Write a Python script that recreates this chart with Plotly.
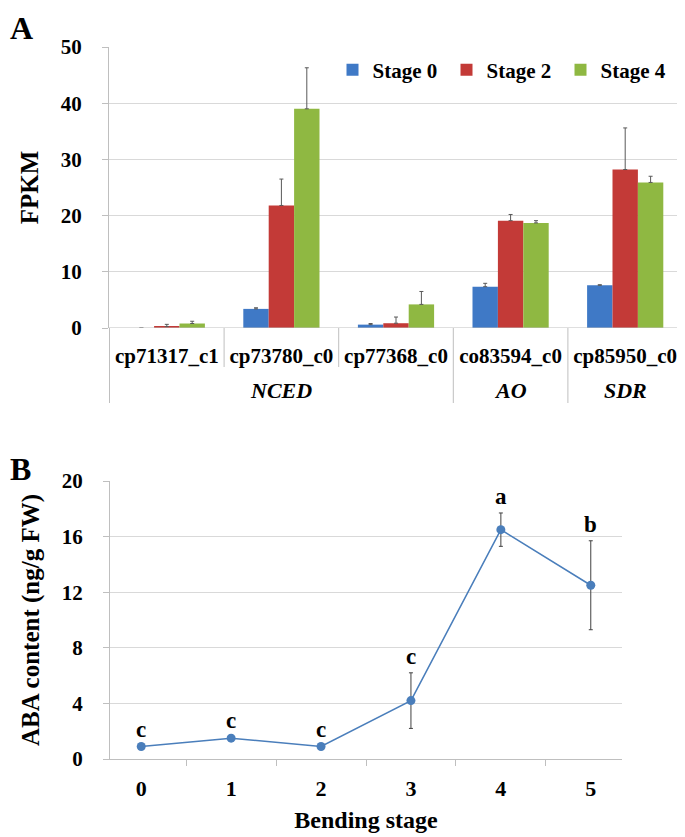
import plotly.graph_objects as go

# ---------------- Data: panel A ----------------
genes = ["cp71317_c1", "cp73780_c0", "cp77368_c0", "co83594_c0", "cp85950_c0"]
gene_groups = ["NCED", "AO", "SDR"]
group_members = [["cp71317_c1", "cp73780_c0", "cp77368_c0"], ["co83594_c0"], ["cp85950_c0"]]
series_names = ["Stage 0", "Stage 2", "Stage 4"]
stage0 = [0.0, 3.4, 0.6, 7.35, 7.6]
stage0_err = [0.0, 0.2, 0.2, 0.6, 0.1]
stage2 = [0.25, 21.8, 0.85, 19.1, 28.2]
stage2_err = [0.4, 4.7, 1.1, 1.1, 7.4]
stage4 = [0.8, 39.0, 4.2, 18.7, 25.9]
stage4_err = [0.4, 7.3, 2.3, 0.4, 1.1]
fpkm_ticks = [0, 10, 20, 30, 40, 50]

# ---------------- Data: panel B ----------------
stages = ["0", "1", "2", "3", "4", "5"]
aba = [0.9, 1.5, 0.9, 4.2, 16.5, 12.5]
aba_err = [0.05, 0.15, 0.05, 2.0, 1.2, 3.2]
letters = ["c", "c", "c", "c", "a", "b"]
aba_ticks = [0, 4, 8, 12, 16, 20]

colors = ["#3f79c6", "#c33a37", "#8fb842"]
FONT = "Liberation Serif"
W, H = 685, 837
OFF = 8  # page body margin offset

def px_x(p):
    return (p - OFF) / W

def px_y(p):
    return 1 - (p - OFF) / H

fig = go.Figure()

for name, vals, errs, col in zip(series_names, [stage0, stage2, stage4],
                                 [stage0_err, stage2_err, stage4_err], colors):
    fig.add_trace(go.Bar(
        x=genes, y=vals, name="<b>" + name + "</b>", marker=dict(color=col, line=dict(width=0)),
        error_y=dict(type="data", symmetric=False, array=errs,
                     arrayminus=[0] * len(errs), color="#595959", thickness=1, width=2),
        xaxis="x", yaxis="y",
    ))

fig.add_trace(go.Scatter(
    x=stages, y=aba, mode="lines+markers", showlegend=False,
    line=dict(color="#4a7ebb", width=1.5),
    marker=dict(color="#4a7ebb", size=9),
    error_y=dict(type="data", array=aba_err, color="#404040", thickness=1, width=2),
    xaxis="x2", yaxis="y2",
))

grid = "#d9d9d9"
axl = "#bfbfbf"

top_y0, top_y1 = 328, 47
bot_y0, bot_y1 = 759, 481

tickf = dict(family=FONT, size=21, color="black", weight="bold")

fig.update_layout(
    width=W, height=H, margin=dict(l=0, r=0, t=0, b=0, autoexpand=False),
    paper_bgcolor="white", plot_bgcolor="white",
    font=dict(family=FONT, color="black", size=20),
    barmode="group", bargap=0.335, bargroupgap=0,
    xaxis=dict(domain=[px_x(109), px_x(683)], anchor="y", type="category", automargin=False,
               showline=False, showgrid=False, ticks="", zeroline=False, tickangle=0,
               tickfont=tickf, ticklabelstandoff=13),
    yaxis=dict(domain=[px_y(top_y0), px_y(top_y1)], anchor="x", range=[0, 50], automargin=False,
               tickvals=fpkm_ticks, showgrid=True, gridcolor=grid, zeroline=False,
               showline=True, linecolor=axl, ticks="outside", ticklen=6, tickcolor=axl,
               tickfont=tickf, ticklabelstandoff=16,
               title=dict(text="FPKM", font=dict(family=FONT, size=25, weight="bold"), standoff=15)),
    xaxis2=dict(domain=[px_x(110), px_x(622)], anchor="y2", type="category", automargin=False,
                showline=True, linecolor=axl, showgrid=False, ticks="outside", tickangle=0,
                tickson="boundaries", ticklen=6, tickcolor=axl,
                tickfont=dict(family=FONT, size=22, color="black", weight="bold"), ticklabelstandoff=10,
                title=dict(text="Bending stage", font=dict(family=FONT, size=24, weight="bold"), standoff=10)),
    yaxis2=dict(domain=[px_y(bot_y0), px_y(bot_y1)], anchor="x2", range=[0, 20], automargin=False,
                tickvals=aba_ticks, showgrid=True, gridcolor=grid, zeroline=False,
                showline=True, linecolor=axl, ticks="outside", ticklen=6, tickcolor=axl,
                tickfont=tickf, ticklabelstandoff=16,
                title=dict(text="ABA content (ng/g FW)", font=dict(family=FONT, size=25, weight="bold"), standoff=15)),
    legend=dict(orientation="h", x=0.973, y=px_y(70), xanchor="right", yanchor="middle",
                font=dict(family=FONT, size=21, color="black", weight="bold"),
                entrywidth=69, entrywidthmode="pixels", bgcolor="rgba(0,0,0,0)",
                itemwidth=30, tracegroupgap=0),
)

# group labels and separators for panel A
shapes = []
annotations = []
idx = 0
for g, members in zip(gene_groups, group_members):
    n = len(members)
    center = idx + (n - 1) / 2
    annotations.append(dict(x=center, y=px_y(390), xref="x", yref="paper", text="<i>" + g + "</i>",
                            showarrow=False, yanchor="middle",
                            font=dict(family=FONT, size=22, color="black", weight="bold")))
    shapes.append(dict(type="line", xref="x", yref="paper", x0=idx - 0.5, x1=idx - 0.5,
                       y0=px_y(top_y0), y1=px_y(403), line=dict(color=axl, width=1)))
    for k in range(1, n):
        shapes.append(dict(type="line", xref="x", yref="paper", x0=idx + k - 0.5, x1=idx + k - 0.5,
                           y0=px_y(top_y0), y1=px_y(367), line=dict(color=axl, width=1)))
    idx += n
shapes.append(dict(type="line", xref="x", yref="paper", x0=idx - 0.5, x1=idx - 0.5,
                   y0=px_y(top_y0), y1=px_y(403), line=dict(color=axl, width=1)))
shapes.append(dict(type="line", xref="paper", yref="y", x0=px_x(109), x1=px_x(683), y0=0, y1=0,
                   line=dict(color=axl, width=1)))

# letters panel B
for s, v, e, l in zip(stages, aba, aba_err, letters):
    annotations.append(dict(x=s, y=v + e, xref="x2", yref="y2", text=l, showarrow=False,
                            yanchor="middle", yshift=16,
                            font=dict(family=FONT, size=23, color="black", weight="bold")))

annotations.append(dict(x=0, y=1, xref="paper", yref="paper", text="A", showarrow=False,
                        xanchor="left", yanchor="top", font=dict(family=FONT, size=32, color="black", weight="bold")))
annotations.append(dict(x=0, y=px_y(469), xref="paper", yref="paper", text="B", showarrow=False,
                        xanchor="left", yanchor="middle", font=dict(family=FONT, size=32, color="black", weight="bold")))

fig.update_layout(shapes=shapes, annotations=annotations)

fig.write_html("out.html")
